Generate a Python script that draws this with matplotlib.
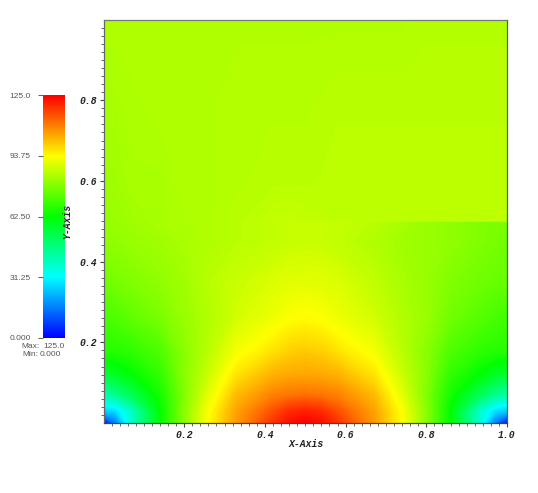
import numpy as np
import matplotlib
matplotlib.use("Agg")
import matplotlib.pyplot as plt
from matplotlib.colors import LinearSegmentedColormap

x_nodes = [0, .03, .07, .14, .20, .26, .33, .42, .46, .50, .54, .58, .67, .74, .80, .86, .93, .97, 1.0]
y_nodes = [0, .03, .07, .12, .18, .26, .35, .45, .499, .501, .60, .80, 1.0]
field = [
 [ 0, 15, 38, 62, 79, 93.7, 106, 119, 123.5, 125, 123.5, 119, 106, 93.7, 79, 62, 38, 15, 0],
 [25, 27, 38, 62, 79, 93, 105, 115, 119.5, 121, 119.5, 115, 105, 93, 79, 62, 38, 27, 25],
 [41, 45, 52, 64.5, 78, 90, 102, 109, 110.5, 111, 110.5, 109, 102, 90, 78, 64.5, 52, 45, 41],
 [56, 58, 62, 68, 79, 87, 97, 103, 104, 104.5, 104, 103, 97, 87, 79, 68, 62, 58, 56],
 [67, 67, 68, 72, 79, 85, 92, 97, 99.3, 100, 99.3, 97, 92, 85, 79, 72, 68, 67, 67],
 [71, 72, 74, 77, 81, 84, 88, 91.5, 93.3, 94, 93.3, 91.5, 88, 84, 81, 76, 73, 71, 70],
 [76, 77, 78, 80, 82, 85, 87, 89, 89.7, 90, 89.7, 89, 86, 83, 81, 78, 76, 75, 75],
 [80, 80, 81, 82, 83, 84, 85, 86, 86.7, 87, 86.7, 86, 84, 82, 81, 80, 78, 77, 76],
 [81, 81, 82, 83, 83.5, 84, 85, 86, 86.7, 87, 86.8, 86.5, 85, 83, 81, 80, 78, 77.5, 77],
 [81, 81, 82, 83, 83.5, 84, 85, 86, 86.5, 86, 85.8, 85.5, 85.5, 85.5, 85.5, 85.5, 85.5, 85.7, 85.7],
 [82, 82, 83, 83, 84, 84, 84.5, 85, 85, 85, 85.2, 85.5, 85.5, 85.5, 85.5, 85.5, 85.5, 85.5, 85.5],
 [83, 83, 83.5, 84, 84, 84, 84.5, 84.5, 84.5, 84.5, 84.7, 85, 85, 85, 85, 85, 85, 85, 85],
 [84, 84, 84, 84, 84, 84, 84, 84, 84, 84, 84, 84, 84, 84, 84.5, 84.5, 84.5, 84.5, 84.5],
]
cmap_colors = ["#0000ff", "#00ffff", "#00ff00", "#ffff00", "#ff0000"]
bar_ticks = [0.0, 31.25, 62.5, 93.75, 125.0]
bar_labels = ["0.000", "31.25", "62.50", "93.75", "125.0"]
x_labels = ["0.2", "0.4", "0.6", "0.8", "1.0"]
y_labels = ["0.2", "0.4", "0.6", "0.8"]
vmin, vmax = 0.0, 125.0

W, H = 538, 493
fig = plt.figure(figsize=(W/100, H/100), dpi=100)
cmap = LinearSegmentedColormap.from_list("hue", cmap_colors, N=512)
mono = dict(family="Liberation Mono", weight="bold", style="italic", size=7, color="#222222")
sans = dict(family="Liberation Sans", size=6, color="#555555")

ax = fig.add_axes([103.5/W, (H-423)/H, 403.5/W, 403.5/H])
ax.set_zorder(2)
ax.contourf(x_nodes, y_nodes, field, levels=np.linspace(vmin, vmax, 252), cmap=cmap,
            vmin=vmin, vmax=vmax, extend="both")
ax.set_xlim(0, 1); ax.set_ylim(0, 1)
ax.set_xticks([.2, .4, .6, .8, 1.0]); ax.set_xticklabels(x_labels, **mono)
ax.set_yticks([.2, .4, .6, .8]); ax.set_yticklabels(y_labels, **mono)
ax.set_xticks(np.arange(.02, 1.0, .02), minor=True)
ax.set_yticks(np.arange(.02, 1.0, .02), minor=True)
ax.tick_params(which="major", length=3, width=0.8, color="#444444", pad=1.7)
ax.tick_params(which="minor", length=2, width=0.7, color="#666666")
ax.set_xlabel("X-Axis", **mono)
ax.set_ylabel("Y-Axis", **mono)
ax.yaxis.set_label_coords((72-103.5)/403.5, (423-221)/403.5)
ax.xaxis.set_label_coords((306-103.5)/403.5, -16/403.5)
for name, col in dict(left="#666666", bottom="#444444", top="#777777", right="#3d7a00").items():
    ax.spines[name].set_color(col); ax.spines[name].set_linewidth(0.9)

cb = fig.add_axes([43/W, (H-338)/H, 21.5/W, 243/H])
grad = np.linspace(vmin, vmax, 256).reshape(-1, 1)
cb.imshow(grad, origin="lower", aspect="auto", cmap=cmap, extent=[0, 1, vmin, vmax], vmin=vmin, vmax=vmax)
cb.set_xticks([]); cb.set_yticks(bar_ticks); cb.set_yticklabels(bar_labels, **sans)
cb.tick_params(axis="y", length=3.6, width=0.8, color="#666666", pad=5)
for s in cb.spines.values():
    s.set_visible(False)

fig.text(30.5/W, 1-346.5/H, "Max:", ha="center", va="center", **sans)
fig.text(53.5/W, 1-346.5/H, "125.0", ha="center", va="center", **sans)
fig.text(30.5/W, 1-354/H, "Min:", ha="center", va="center", **sans)
fig.text(50.5/W, 1-354/H, "0.000", ha="center", va="center", **sans)
fig.savefig("out.png", dpi=100)
